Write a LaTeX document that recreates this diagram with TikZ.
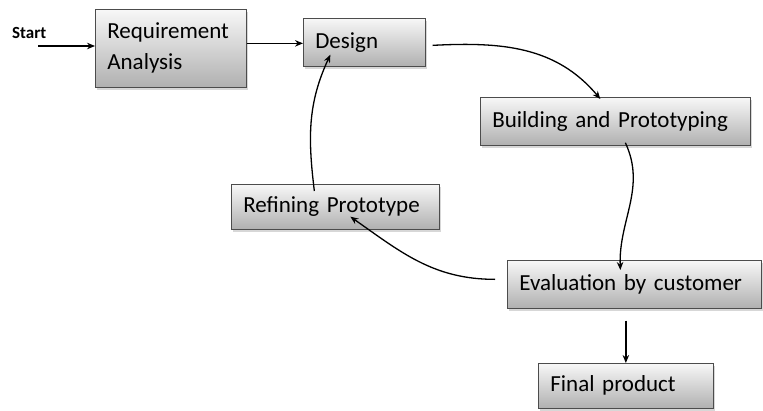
\documentclass[tikz,border=0pt]{standalone}
\usepackage{fontspec}
\setmainfont{Carlito}
\usetikzlibrary{shadows,arrows.meta}
\begin{document}
\begin{tikzpicture}[x=1pt,y=-1pt,
  box/.style={draw=gray!60!black, line width=0.7pt, top color=gray!6, bottom color=gray!62,
    drop shadow={shadow xshift=2pt, shadow yshift=-2.5pt, fill=gray!45, opacity=0.7},
    inner xsep=12pt, inner ysep=0pt, align=left, anchor=north west,
    font=\fontsize{23}{31}\selectfont},
  arr/.style={-{Stealth[length=8pt,width=6.5pt]}, line width=1.3pt, black}]
\useasboundingbox (0,0) rectangle (763,410);
\node[box, text width=127pt, minimum height=78pt] (ra) at (95,9) {Requirement\\Analysis};
\node[box, text width=98pt, minimum height=48pt] (design) at (303,18) {Design};
\node[box, text width=246pt, minimum height=48pt] (build) at (480,97) {Building and Prototyping};
\node[box, text width=184pt, minimum height=45pt] (refine) at (231,184) {Refining Prototype};
\node[box, text width=230pt, minimum height=48pt] (eval) at (507,260) {Evaluation by customer};
\node[box, text width=151pt, minimum height=45pt] (final) at (538,363) {Final product};
\node[font=\bfseries\fontsize{17}{19}\selectfont, anchor=west, inner sep=0pt] (start) at (12,33) {Start};
\coordinate (s) at (38,46);
\draw[arr] (s) -- (s -| ra.west);
\draw[arr] ([yshift=5pt]ra.east) -- ([yshift=5pt]ra.east -| design.west);
\draw[arr] ([xshift=7pt,yshift=-3pt]design.east) to[out=3,in=130] ([xshift=-15pt,yshift=-2pt]build.north);
\draw[arr] ([xshift=10pt,yshift=3pt]build.south) to[out=-65,in=92] ([xshift=-14pt,yshift=-10pt]eval.north);
\draw[arr] ([xshift=-12pt,yshift=5pt]eval.west) to[out=180,in=-35] ([xshift=15pt,yshift=13pt]refine.south);
\draw[arr] ([xshift=-21pt,yshift=-7pt]refine.north) to[out=97,in=-115] ([xshift=-34pt,yshift=12pt]design.south);
\draw[arr, shorten <=12pt] (final.north |- eval.south) -- (final.north);
\end{tikzpicture}
\end{document}
